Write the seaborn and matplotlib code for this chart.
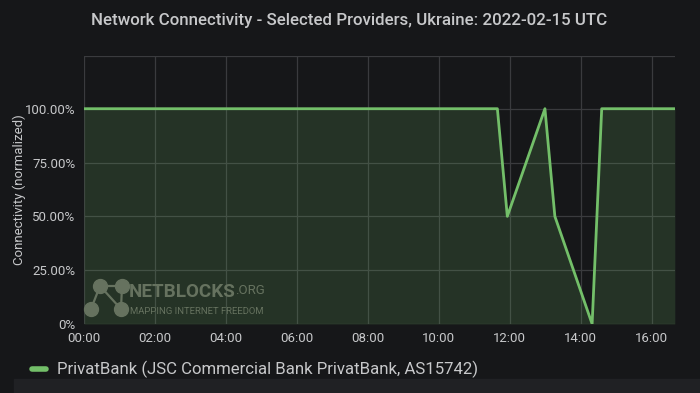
import matplotlib
matplotlib.use("Agg")
import matplotlib.pyplot as plt
import seaborn as sns
import pandas as pd
from matplotlib.patches import Rectangle
from matplotlib.lines import Line2D

# Data (hours since 00:00 UTC, connectivity in %)
hours = [0.0, 11.65, 11.93, 12.99, 13.27, 14.32, 14.59, 16.65]
connectivity = [100, 100, 50, 100, 50, 0, 100, 100]
x_ticks = [0, 2, 4, 6, 8, 10, 12, 14, 16]
x_labels = ["00:00", "02:00", "04:00", "06:00", "08:00", "10:00", "12:00", "14:00", "16:00"]
y_ticks = [0, 25, 50, 75, 100]
y_labels = ["0%", "25.00%", "50.00%", "75.00%", "100.00%"]
series_name = "PrivatBank (JSC Commercial Bank PrivatBank, AS15742)"

df = pd.DataFrame({"hour": hours, "conn": connectivity})

sns.set_theme(style="dark")
plt.rcParams["font.family"] = ["Roboto", "DejaVu Sans"]

BG = "#161719"
GREEN = "#73BF69"
TXT = "#c7c8ca"
GRID = "#3a3b3e"

W, H = 700, 393
fig = plt.figure(figsize=(7, 3.93), dpi=100, facecolor=BG)
ax = fig.add_axes([0.12, 0.1756, 0.844, 0.682])
ax.set_facecolor(BG)

sns.lineplot(data=df, x="hour", y="conn", ax=ax, color=GREEN, linewidth=2, zorder=3)
ax.fill_between(df["hour"], df["conn"], 0, color=GREEN, alpha=0.17, linewidth=0, zorder=2)

ax.set_xlim(0, 16.65)
ax.set_ylim(0, 124.5)
ax.set_xticks(x_ticks)
ax.set_xticklabels(x_labels)
ax.set_yticks(y_ticks + [124.5])
ax.set_yticklabels(y_labels + [""])
ax.tick_params(axis="both", colors=TXT, labelsize=9.5, length=0, pad=6)
ax.grid(True, color=GRID, linewidth=0.9, zorder=1)
for s in ax.spines.values():
    s.set_visible(False)
ax.set_xlabel("")
ax.set_ylabel("Connectivity (normalized)", color=TXT, fontsize=9.5)
ax.yaxis.set_label_coords(-0.098, 0.5)

fig.text(0.499, 0.948, "Network Connectivity - Selected Providers, Ukraine: 2022-02-15 UTC",
         ha="center", va="center", color=TXT, fontsize=12.2, fontweight="medium")

# Watermark (pixel positions converted to figure fractions)
def fx(px):
    return px / W

def fy(py):
    return 1 - py / H

wm = "#66725f"
fig.text(fx(129), fy(292), "NETBLOCKS", color=wm, fontsize=13.6, fontweight="bold",
         ha="left", va="center", zorder=5)
fig.text(fx(235), fy(290), ".ORG", color=wm, fontsize=9.5, ha="left", va="center", zorder=5)
fig.text(fx(130), fy(311), "MAPPING INTERNET FREEDOM", color=wm, fontsize=6.8,
         ha="left", va="center", zorder=5)
nodes = [(100, 286), (122, 286), (91, 309), (121, 309)]
for (a, b) in [(0, 1), (0, 2), (0, 3), (1, 3)]:
    fig.lines.append(Line2D([fx(nodes[a][0]), fx(nodes[b][0])],
                            [fy(nodes[a][1]), fy(nodes[b][1])],
                            transform=fig.transFigure, color=wm, linewidth=1.6, zorder=5))
fig.lines.append(Line2D([fx(n[0]) for n in nodes], [fy(n[1]) for n in nodes],
                        transform=fig.transFigure, linestyle="none", marker="o",
                        markersize=10, color=wm, zorder=6))

# Legend strip
fig.patches.append(Rectangle((0.02, 0.0), 0.98, 0.035, transform=fig.transFigure,
                             color="#202124", zorder=0))
fig.lines.append(Line2D([0.046, 0.066], [0.061, 0.061], transform=fig.transFigure,
                        color=GREEN, linewidth=4))
fig.text(0.081, 0.061, series_name, color=TXT, fontsize=12.1, ha="left", va="center")

fig.savefig("out.png", dpi=100, facecolor=BG)
